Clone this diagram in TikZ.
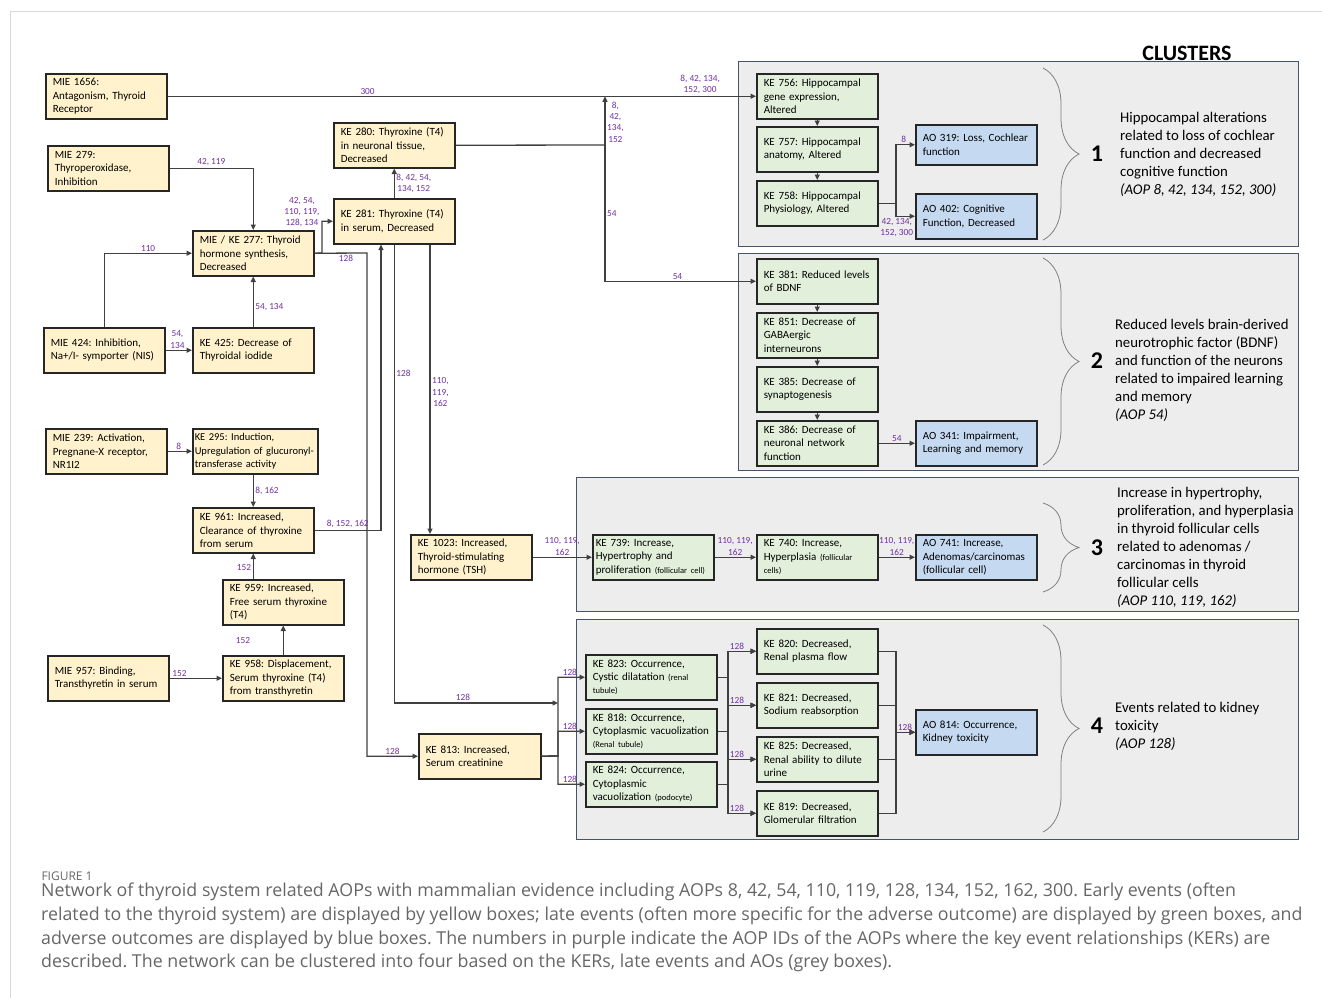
\documentclass[tikz,border=0pt]{standalone}
\usepackage{fontspec}
\setmainfont{Carlito}
\newfontfamily\captionfont{Open Sans}
\usetikzlibrary{arrows.meta, positioning, decorations.pathreplacing}
\definecolor{earlyev}{HTML}{FFF2CC}
\definecolor{lateev}{HTML}{E2EFDA}
\definecolor{adverse}{HTML}{C5D9F1}
\definecolor{clusterbg}{HTML}{EDEDED}
\definecolor{clusterline}{HTML}{44546A}
\definecolor{boxline}{HTML}{262626}
\definecolor{linkgray}{HTML}{404040}
\definecolor{aopid}{HTML}{7030A0}
\definecolor{captext}{HTML}{666666}
\definecolor{frameline}{HTML}{D9D9D9}
\newcommand{\qualifier}[1]{{\fontsize{8.5}{13.4}\selectfont #1}}

\begin{document}
\frenchspacing
\begin{tikzpicture}[
    x=1pt, y=-1pt,
    event/.style={rectangle, draw=boxline, line width=1.5pt, text width=#1, inner xsep=7pt, inner ysep=1pt, minimum height=45pt, align=left, anchor=north west, font=\fontsize{11}{13.4}\selectfont},
    event/.default=107pt,
    early/.style={event=#1, fill=earlyev}, early/.default=107pt,
    late/.style={event=#1, fill=lateev}, late/.default=107pt,
    ao/.style={event=#1, fill=adverse}, ao/.default=107pt,
    ker/.style={text=aopid, font=\fontsize{9.3}{11.4}\selectfont, align=center, inner sep=1.5pt},
    arrow/.style={draw=linkgray, line width=1.3pt, -{Triangle[length=5.5pt, width=5pt]}},
    feed/.style={draw=linkgray, line width=1.3pt},
    cluster/.style={draw=clusterline, fill=clusterbg, line width=0.9pt},
    grouping/.style={draw=gray, line width=0.8pt, decorate, decoration={brace, amplitude=36pt}},
    clusterno/.style={font=\fontsize{24}{24}\bfseries\selectfont},
    clusterinfo/.style={anchor=west, align=left, inner sep=3pt, font=\fontsize{14.8}{18}\selectfont},
]
\useasboundingbox (0,0) rectangle (1322,998);
\draw[frameline, line width=1pt] (10,998) -- (10,12) -- (1322,12);

% Cluster frames
\draw[cluster] (738,61) rectangle (1298,246);
\draw[cluster] (738,253) rectangle (1298,470);
\draw[cluster] (576,477) rectangle (1298,611);
\draw[cluster] (576,619) rectangle (1298,839);
\node[font=\fontsize{22}{22}\bfseries\selectfont] (title) at (1187,53) {CLUSTERS};

% Early events
\node[early] (mie1656) at (45,73) {MIE 1656:\\Antagonism, Thyroid\\Receptor};
\node[early] (mie279) at (47,145) {MIE 279:\\Thyroperoxidase,\\Inhibition};
\node[early] (ke277) at (192,230) {MIE / KE 277: Thyroid\\hormone synthesis,\\Decreased};
\node[early] (mie424) at (43,327) {MIE 424: Inhibition,\\Na+/I- symporter (NIS)};
\node[early] (ke425) at (192,327) {KE 425: Decrease of\\Thyroidal iodide};
\node[early] (mie239) at (45,428) {MIE 239: Activation,\\Pregnane-X receptor,\\NR1I2};
\node[early=121pt, inner xsep=2pt, font=\fontsize{10.5}{13.4}\selectfont] (ke295) at (192,428) {KE 295: Induction,\\Upregulation of glucuronyl-\\transferase activity};
\node[early] (ke961) at (192,507) {KE 961: Increased,\\Clearance of thyroxine\\from serum};
\node[early] (ke959) at (222,579) {KE 959: Increased,\\Free serum thyroxine\\(T4)};
\node[early] (mie957) at (47,655) {MIE 957: Binding,\\Transthyretin in serum};
\node[early] (ke958) at (222,655) {KE 958: Displacement,\\Serum thyroxine (T4)\\from transthyretin};
\node[early] (ke280) at (333,122) {KE 280: Thyroxine (T4)\\in neuronal tissue,\\Decreased};
\node[early] (ke281) at (333,198) {KE 281: Thyroxine (T4)\\in serum, Decreased};
\node[early] (ke1023) at (410,534) {KE 1023: Increased,\\Thyroid-stimulating\\hormone (TSH)};
\node[early=108pt] (ke813) at (418,733) {KE 813: Increased,\\Serum creatinine};

% Cluster 1: hippocampus
\node[late] (ke756) at (756,73) {KE 756: Hippocampal\\gene expression,\\Altered};
\node[late, below=6.5pt of ke756] (ke757) {KE 757: Hippocampal\\anatomy, Altered};
\node[late, below=7.5pt of ke757] (ke758) {KE 758: Hippocampal\\Physiology, Altered};
\node[ao, minimum height=40pt] (ao319) at (915,124) {AO 319: Loss, Cochlear\\function};
\node[ao] (ao402) at (915,193) {AO 402: Cognitive\\Function, Decreased};

% Cluster 2: BDNF
\node[late] (ke381) at (756,258) {KE 381: Reduced levels\\of BDNF};
\node[late, below=7.5pt of ke381] (ke851) {KE 851: Decrease of\\GABAergic\\interneurons};
\node[late, below=7.5pt of ke851] (ke385) {KE 385: Decrease of\\synaptogenesis};
\node[late, below=7.5pt of ke385] (ke386) {KE 386: Decrease of\\neuronal network\\function};
\node[ao] (ao341) at (915,420) {AO 341: Impairment,\\Learning and memory};

% Cluster 3: thyroid follicular cells
\node[late=115pt, inner xsep=3pt] (ke739) at (592,534) {KE 739: Increase,\\Hypertrophy and\\proliferation \qualifier{(follicular cell)}};
\node[late] (ke740) at (756,534) {KE 740: Increase,\\Hyperplasia \qualifier{(follicular}\\\qualifier{cells)}};
\node[ao] (ao741) at (915,534) {AO 741: Increase,\\Adenomas/carcinomas\\(follicular cell)};

% Cluster 4: kidney
\node[late=117pt] (ke823) at (585,654) {KE 823: Occurrence,\\Cystic dilatation \qualifier{(renal}\\\qualifier{tubule)}};
\node[late=117pt, below=7.5pt of ke823] (ke818) {KE 818: Occurrence,\\Cytoplasmic vacuolization\\\qualifier{(Renal tubule)}};
\node[late=117pt, below=6.5pt of ke818] (ke824) {KE 824: Occurrence,\\Cytoplasmic\\vacuolization \qualifier{(podocyte)}};
\node[late] (ke820) at (756,628) {KE 820: Decreased,\\Renal plasma flow};
\node[late, below=7.5pt of ke820] (ke821) {KE 821: Decreased,\\Sodium reabsorption};
\node[late, below=7.5pt of ke821] (ke825) {KE 825: Decreased,\\Renal ability to dilute\\urine};
\node[late, below=7.5pt of ke825] (ke819) {KE 819: Decreased,\\Glomerular filtration};
\node[ao] (ao814) at (915,709) {AO 814: Occurrence,\\Kidney toxicity};

% Braces and cluster notes
\draw[grouping] (1043,68) -- (1043,240);
\draw[grouping] (1043,258) -- (1043,465);
\draw[grouping] (1043,503) -- (1043,592);
\draw[grouping] (1043,625) -- (1043,832);
\node[clusterno] (no1) at (1097,154) {1};
\node[clusterno] (no2) at (1097,361) {2};
\node[clusterno] (no3) at (1097,548) {3};
\node[clusterno] (no4) at (1097,726) {4};
\node[clusterinfo] (info1) at (1117,154) {Hippocampal alterations\\related to loss of cochlear\\function and decreased\\cognitive function\\\textit{(AOP 8, 42, 134, 152, 300)}};
\node[clusterinfo] (info2) at (1112,370) {Reduced levels brain-derived\\neurotrophic factor (BDNF)\\and function of the neurons\\related to impaired learning\\and memory\\\textit{(AOP 54)}};
\node[clusterinfo] (info3) at (1114,547) {Increase in hypertrophy,\\proliferation, and hyperplasia\\in thyroid follicular cells\\related to adenomas /\\carcinomas in thyroid\\follicular cells\\\textit{(AOP 110, 119, 162)}};
\node[clusterinfo] (info4) at (1112,726) {Events related to kidney\\toxicity\\\textit{(AOP 128)}};

% Thyroid receptor and KE 280 towards the clusters
\draw[arrow] (mie1656) -- (ke756)
  node[ker, above, pos=.34] (k300) {300}
  node[ker, above, pos=.905] (k756) {8, 42, 134,\\152, 300};
\coordinate (split) at (605,145);
\draw[feed] (ke280.east) -- (split);
\draw[arrow] (split) -- (split |- mie1656.east) node[ker, right, pos=.47] (kup) {8,\\42,\\134,\\152};
\draw[arrow] (split) |- (ke381.west)
  node[ker, right, pos=.25] (k54a) {54}
  node[ker, above, pos=.74] (k54b) {54};

% Thyroid hormone synthesis
\draw[arrow] (mie279.east) -| (ke277.north) node[ker, above, pos=.25] (k42) {42, 119};
\draw[arrow] (mie424.north) |- (ke277.west) node[ker, above, pos=.75] (k110) {110};
\draw[arrow] (mie424) -- (ke425) node[ker, above, pos=.45] (k54c) {54,\\134};
\draw[arrow] (ke425) -- (ke277) node[ker, right, pos=.4] (k54d) {54, 134};

% Serum thyroxine
\coordinate (fork) at (322,253);
\draw[arrow] (ke277.east) -- (fork) |- (ke281.west);
\node[ker] (k281) at (302,212) {42, 54,\\110, 119,\\128, 134};
\coordinate (drop) at (367,253);
\draw[arrow] (ke277.east) -- (drop) node[ker, below, pos=.6] (k128a) {128}
  |- (ke813.west) node[ker, above, pos=.75] (k128b) {128};
\draw[arrow] (ke961.east) -| ([xshift=48pt]ke281.south west) node[ker, above, pos=.25] (k8a) {8, 152, 162};
\draw[arrow] (ke281) -- (ke280) node[ker, right, pos=.5] (k8b) {8, 42, 54,\\134, 152};
\draw[arrow] ([xshift=97pt]ke281.south west) -- ([xshift=20pt]ke1023.north west) node[ker, right, pos=.51] (k110b) {110,\\119,\\162};
\coordinate (busin) at (558,703);
\draw[arrow] (ke281.south) |- (busin)
  node[ker, right, pos=.14] (k128c) {128}
  node[ker, above, pos=.71] (k128d) {128};

% Clearance of thyroxine
\draw[arrow] (mie239) -- (ke295) node[ker, above, pos=.46] (k8c) {8};
\draw[arrow] (ke295.south -| ke961.north) -- (ke961.north) node[ker, right, pos=.5] (k8e) {8, 162};
\draw[arrow] (ke959.north -| ke961.south) -- (ke961.south) node[ker, left, pos=.44] (k152a) {152};
\draw[arrow] (ke958) -- (ke959);
\node[ker] (k152b) at (243,641) {152};
\draw[arrow] (mie957) -- (ke958) node[ker, above, pos=.19] (k152c) {152};

% Thyroid follicular chain
\draw[arrow] (ke1023) -- (ke739) node[ker, above, pos=.5] (k110c) {110, 119,\\162};
\draw[arrow] (ke739) -- (ke740) node[ker, above, pos=.5] (k110d) {110, 119,\\162};
\draw[arrow] (ke740) -- (ao741) node[ker, above, pos=.5] (k110e) {110, 119,\\162};

% Hippocampus chain
\draw[arrow] (ke756) -- (ke757);
\draw[arrow] (ke757) -- (ke758);
\coordinate (hipbus) at (896,0);
\draw[arrow] (ke758.east) -- (ke758.east -| hipbus) |- (ao319.west) node[ker, above, pos=.7] (k8d) {8};
\draw[arrow] (ke758.east) -- (ke758.east -| hipbus) |- (ao402.west) node[ker, below, pos=.52] (k42b) {42, 134,\\152, 300};

% BDNF chain
\draw[arrow] (ke381) -- (ke851);
\draw[arrow] (ke851) -- (ke385);
\draw[arrow] (ke385) -- (ke386);
\draw[arrow] (ke386) -- (ao341) node[ker, above, pos=.5] (k54e) {54};

% Kidney
\coordinate (busout) at (558,756);
\foreach \t in {ke823,ke818,ke824}
  \draw[arrow] (ke813.east) -- (busout) |- (\t.west) node[ker, above, pos=.72] (k\t) {128};
\coordinate (renbus) at (728,0);
\foreach \s in {ke823,ke818,ke824}
  \foreach \t in {ke820,ke821,ke825,ke819}
    \draw[arrow] (\s.east) -- (\s.east -| renbus) |- (\t.west);
\foreach \t in {ke820,ke821,ke825,ke819}
  \node[ker, above] (k\t) at ([xshift=-19pt]\t.west) {128};
\coordinate (aobus) at (896,0);
\foreach \s in {ke820,ke821,ke825,ke819}
  \draw[arrow] (\s.east) -- (\s.east -| aobus) |- (ao814.west);
\node[ker, above] (k814) at ([xshift=-10pt]ao814.west) {128};

% Caption
\node[anchor=west, text=captext, font=\captionfont\fontsize{12}{12}\selectfont] (figno) at (38,876) {FIGURE 1};
\node[anchor=north west, text=captext, align=left, inner sep=0pt, font=\captionfont\fontsize{17.8}{23.6}\selectfont] (caption) at (41,883) {Network of thyroid system related AOPs with mammalian evidence including AOPs 8, 42, 54, 110, 119, 128, 134, 152, 162, 300. Early events (often\\related to the thyroid system) are displayed by yellow boxes; late events (often more specific for the adverse outcome) are displayed by green boxes, and\\adverse outcomes are displayed by blue boxes. The numbers in purple indicate the AOP IDs of the AOPs where the key event relationships (KERs) are\\described. The network can be clustered into four based on the KERs, late events and AOs (grey boxes).};
\end{tikzpicture}
\end{document}
